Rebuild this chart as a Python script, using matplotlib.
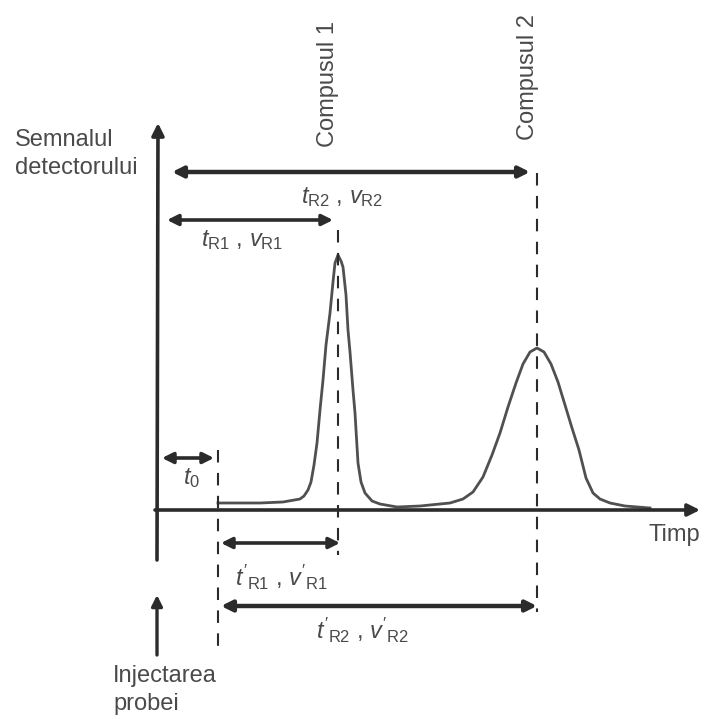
import matplotlib
matplotlib.use('Agg')
import matplotlib.pyplot as plt

plt.rcParams['font.family'] = ['Liberation Sans', 'DejaVu Sans']
plt.rcParams['mathtext.fontset'] = 'custom'
plt.rcParams['mathtext.rm'] = 'Liberation Sans'
plt.rcParams['mathtext.it'] = 'Liberation Sans:italic'

# detector signal (time from the signal axis, signal above baseline)
time = [61, 103, 126, 143, 147, 151, 154, 157, 160, 163, 166, 169, 173, 176, 178,
        181, 184, 186, 189, 191, 193, 196, 198, 201, 204, 208, 215, 223, 240, 263,
        293, 306, 316, 326, 335, 343, 351, 359, 366, 373, 380, 387, 394, 401, 408,
        415, 422, 429, 436, 443, 453, 468, 493]
signal = [7, 7, 8, 11, 14, 20, 28, 45, 67, 100, 130, 165, 197, 228, 247,
          255, 249, 243, 215, 180, 158, 120, 97, 47, 28, 17, 9, 6, 3, 4,
          7, 11, 18, 33, 55, 77, 103, 127, 146, 158, 162, 158, 146, 128, 105,
          82, 60, 32, 17, 11, 7, 4, 2]

t_inject = 61     # injection (t0 end)
t_R = [181, 380]  # retention times of compus 1 and 2
compounds = ['Compusul 1', 'Compusul 2']

ink = '#2b2b2b'
txt = '#4a4a4a'

fig = plt.figure(figsize=(7.07, 7.19), dpi=100)
ax = fig.add_axes([0, 0, 1, 1])
ax.set_xlim(-157, 550)
ax.set_ylim(-209, 510)
ax.axis('off')

# axes of the chromatogram
ax.annotate('', xy=(543, 0), xytext=(-2, 0),
            arrowprops=dict(arrowstyle='-|>', lw=2.6, color=ink, mutation_scale=18,
                            shrinkA=0, shrinkB=0))
ax.annotate('', xy=(1, 387), xytext=(0, -50),
            arrowprops=dict(arrowstyle='-|>', lw=2.6, color=ink, mutation_scale=18,
                            shrinkA=0, shrinkB=0))

# signal
ax.plot(time, signal, color='#505050', lw=2.0, solid_joinstyle='round')

# dashed verticals
ax.plot([t_inject, t_inject], [60, -145], color=ink, lw=1.5, ls=(0, (6, 5)))
ax.plot([t_R[0], t_R[0]], [280, -45], color=ink, lw=1.5, ls=(0, (6, 5)))
ax.plot([t_R[1], t_R[1]], [337, -102], color=ink, lw=1.5, ls=(0, (6, 5)))

def span(x0, x1, y, lw=2.6):
    ax.annotate('', xy=(x1, y), xytext=(x0, y),
                arrowprops=dict(arrowstyle='<|-|>', lw=lw, color=ink, mutation_scale=16,
                                shrinkA=0, shrinkB=0))

span(5, t_inject - 4, 52)
span(10, t_R[0] - 5, 290)
span(15, t_R[1] - 7, 338, lw=3.2)
span(t_inject + 3, t_R[0] + 2, -33)
span(t_inject + 3, t_R[1], -96, lw=3.2)

# injection arrow
ax.annotate('', xy=(0, -85), xytext=(0, -145),
            arrowprops=dict(arrowstyle='-|>', lw=2.4, color=ink, mutation_scale=16,
                            shrinkA=0, shrinkB=0))

fs = 17
ax.text(35, 32, '$t_0$', fontsize=fs, color=txt, ha='center', va='center')
ax.text(85, 270, r'$t_{\mathrm{R1}}$ , $v_{\mathrm{R1}}$', fontsize=fs, color=txt,
        ha='center', va='center')
ax.text(185, 313, r'$t_{\mathrm{R2}}$ , $v_{\mathrm{R2}}$', fontsize=fs, color=txt,
        ha='center', va='center')
ax.text(124, -67, r"$t'_{\mathrm{R1}}$ , $v'_{\mathrm{R1}}$", fontsize=fs, color=txt,
        ha='center', va='center')
ax.text(205, -120, r"$t'_{\mathrm{R2}}$ , $v'_{\mathrm{R2}}$", fontsize=fs, color=txt,
        ha='center', va='center')

ax.text(-142, 356, 'Semnalul\ndetectorului', fontsize=fs, color=txt,
        ha='left', va='center', linespacing=1.35)
ax.text(-44, -180, 'Injectarea\nprobei', fontsize=fs, color=txt,
        ha='left', va='center', linespacing=1.35)
ax.text(543, -25, 'Timp', fontsize=fs, color=txt, ha='right', va='center')

ax.text(t_R[0] - 10, 363, compounds[0], fontsize=fs, color=txt, rotation=90,
        ha='center', va='bottom')
ax.text(t_R[1] - 9, 370, compounds[1], fontsize=fs, color=txt, rotation=90,
        ha='center', va='bottom')

fig.savefig('out.png', dpi=100, facecolor='white')
